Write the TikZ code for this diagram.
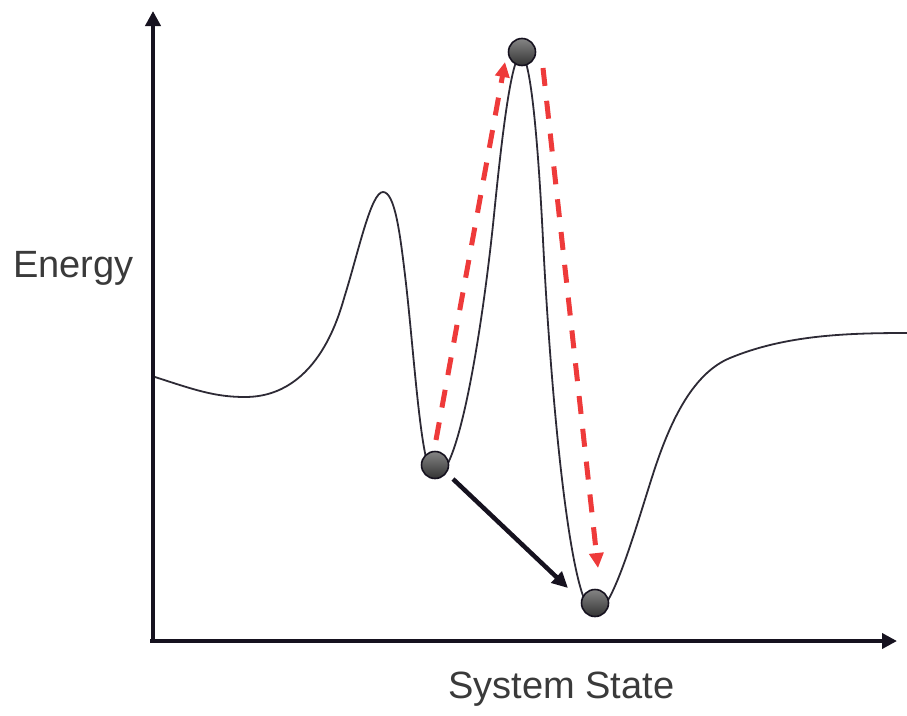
\documentclass[tikz,border=0pt]{standalone}
\usepackage{fontspec}
\setmainfont{Liberation Sans}
\usetikzlibrary{arrows.meta}
\definecolor{inkd}{HTML}{16121F}
\definecolor{jumpred}{HTML}{EE3A3A}
\definecolor{labgray}{HTML}{3A3A3A}
\tikzset{
  ball/.style={circle, draw=inkd, line width=1.6pt, inner sep=0pt, minimum size=27pt,
               top color=black!48, middle color=black!28, bottom color=black!80},
  axis/.style={-{Triangle[length=15pt,width=15pt]}, line width=4.5pt, draw=inkd},
  curve/.style={line width=1.8pt, draw=inkd!90},
  jump/.style={-{Triangle[length=15pt,width=14pt]}, line width=5pt, draw=jumpred,
               dash pattern=on 18pt off 15pt},
  slide/.style={-{Triangle[length=16pt,width=15pt]}, line width=4.5pt, draw=inkd},
  lab/.style={inner sep=0pt, text=labgray, font=\fontsize{38}{44}\selectfont}
}
\begin{document}
\begin{tikzpicture}[x=1pt,y=-1pt]
\useasboundingbox (0,0) rectangle (907,715);
% axes
\coordinate (xstart) at (150,641);
\coordinate (O) at (153,641);
\coordinate (yend) at (153,11);
\coordinate (xend) at (897,641);
\draw[axis] (O) -- (yend);
\draw[axis] (xstart) -- (xend);
% energy landscape
\draw[curve] (155,377) .. controls (195,390) and (215,397) .. (245,397)
  .. controls (320,397) and (340.5,309.3) .. (345,295)
  .. controls (358.4,252) and (371,192) .. (383,192)
  .. controls (395,192) and (400.2,235.3) .. (405,275)
  .. controls (414.5,354.4) and (421,477) .. (435,477)
  .. controls (460,477) and (484,314.5) .. (494,215)
  .. controls (501,145.4) and (511,55) .. (521,55)
  .. controls (531,55) and (538.5,150) .. (543,240)
  .. controls (550.5,390) and (570,613) .. (595,613)
  .. controls (613,613) and (639.2,515.5) .. (655,468)
  .. controls (670.8,420.5) and (693,373.3) .. (730,358)
  .. controls (785.4,335) and (847,333) .. (907,333);
% states
\node[ball] (wellA) at (435,465) {};
\node[ball] (top) at (522,52) {};
\node[ball] (wellB) at (595,603) {};
% moves
\coordinate (upS) at (436,440);
\coordinate (upE) at (505,62);
\coordinate (downS) at (543,68);
\coordinate (downE) at (598,568);
\coordinate (slideS) at (453,479);
\coordinate (slideE) at (568,588);
\draw[jump] (upS) -- (upE);
\draw[jump] (downS) -- (downE);
\draw[slide] (slideS) -- (slideE);
% labels
\node[lab, anchor=base west] (ylab) at (13,277) {Energy};
\node[lab, anchor=base west] (xlab) at (448,698) {System State};
\end{tikzpicture}
\end{document}
